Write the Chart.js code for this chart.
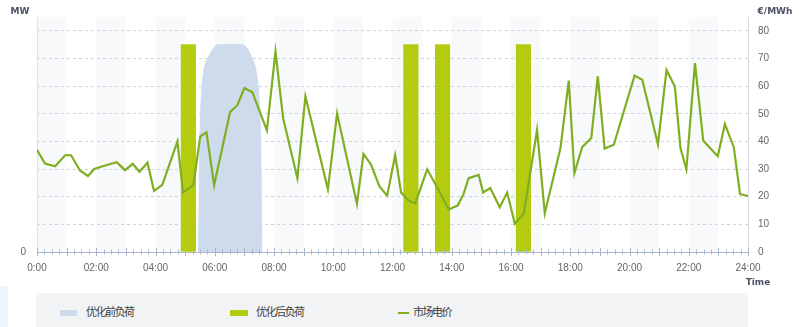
<!DOCTYPE html>
<html>
<head>
<meta charset="utf-8">
<script src="https://cdn.jsdelivr.net/npm/chart.js@4.4.1/dist/chart.umd.min.js"></script>
<style>
html, body { margin: 0; padding: 0; background: #fff; width: 799px; height: 327px; overflow: hidden; }
body { font-family: "Noto Sans CJK SC", "DejaVu Sans", sans-serif; position: relative; }
#wrap { position: absolute; left: 0; top: 0; width: 799px; height: 290px; }
#edge { position: absolute; left: 0; top: 286px; width: 8px; height: 41px; background: #eef4fb; }
#legend { position: absolute; left: 36px; top: 293px; width: 712px; height: 40px; background: #f2f3f5; }
.sw { position: absolute; }
.txt { position: absolute; top: 11px; font-size: 11px; line-height: 14px; color: #3d3d3d; letter-spacing: -1.5px; white-space: nowrap; }
</style>
</head>
<body>
<div id="wrap"><canvas id="myChart" width="799" height="290"></canvas></div>
<div id="edge"></div>
<div id="legend">
    <div class="sw" style="left:24px;top:17px;width:17px;height:6px;background:#ccdaec"></div>
    <div class="txt" id="lg0" style="left:50px"></div>
    <div class="sw" style="left:194px;top:17px;width:18px;height:6px;background:#b5cb0f"></div>
    <div class="txt" id="lg1" style="left:220px"></div>
    <div class="sw" style="left:362px;top:19px;width:11px;height:2px;background:#7fae22"></div>
    <div class="txt" id="lg2" style="left:377px"></div>
</div>
<script>
// series names
const seriesNames = ['优化前负荷', '优化后负荷', '市场电价'];

// market price (€/MWh), time in hours
const priceTimes = [0.00, 0.27, 0.61, 0.95, 1.15, 1.45, 1.72, 1.93, 2.30, 2.69,
    2.97, 3.23, 3.46, 3.73, 3.95, 4.23, 4.74, 4.93, 5.28, 5.51,
    5.72, 5.98, 6.52, 6.76, 7.00, 7.27, 7.76, 8.05, 8.31, 8.79,
    9.06, 9.82, 10.13, 10.80, 11.02, 11.27, 11.56, 11.82, 12.09, 12.29,
    12.54, 12.77, 13.17, 13.45, 13.90, 14.20, 14.40, 14.57, 14.91, 15.06,
    15.30, 15.62, 15.87, 16.13, 16.43, 16.88, 17.14, 17.67, 17.95, 18.14,
    18.40, 18.71, 18.93, 19.16, 19.47, 20.17, 20.43, 20.96, 21.25, 21.53,
    21.72, 21.92, 22.21, 22.49, 22.98, 23.22, 23.52, 23.73, 24.00];
const priceValues = [37, 32, 31, 35, 35, 29.5, 27.5, 30, 31.3, 32.5,
    29.6, 31.9, 29, 32.3, 22.1, 24.3, 40, 21.5, 24.3, 41.8,
    43.3, 24.2, 50.7, 53, 59.3, 57.8, 44, 72.5, 48.3, 26.7,
    56.3, 22.7, 50.1, 17.4, 35.5, 31.7, 23.7, 20.4, 35, 21.5,
    18.6, 17.6, 29.9, 24.5, 15.4, 16.8, 21, 26.7, 27.9, 21.5,
    23.1, 16.2, 21.5, 10.2, 13.8, 44.2, 14, 37.6, 62, 28.5,
    37.9, 41.2, 63.5, 37.4, 38.8, 63.8, 62.3, 39, 65.8, 59.9,
    37.6, 29.9, 68.3, 40.2, 34.6, 46.3, 37.9, 21, 20.2];

// load before optimisation (MW, left axis)
const beforeTimes = [5.45, 5.50, 5.56, 5.62, 5.79, 6.12, 6.52, 6.92, 7.25, 7.40, 7.48, 7.55, 7.59];
const beforeLoad = [0, 40, 58, 65, 70.4, 75, 75, 75, 70.4, 65, 58, 40, 0];

// load after optimisation (MW, left axis), bar centre times
const afterTimes = [5.11, 12.62, 13.69, 16.42];
const afterLoad = [75, 75, 75, 75];

// right axis ticks
const priceTicks = [0, 10, 20, 30, 40, 50, 60, 70, 80];

seriesNames.forEach((n, i) => { document.getElementById('lg' + i).textContent = n; });

const hourLabel = v => v === 0 ? '0:00' : String(v).padStart(2, '0') + ':00';

// light hour bands behind the grid
const bandsPlugin = {
    id: 'bands',
    beforeDraw(chart) {
        const { ctx, chartArea, scales } = chart;
        const x = scales.x;
        ctx.save();
        ctx.fillStyle = '#f8f9fb';
        for (let h = 0; h < 24; h += 2) {
            const x0 = x.getPixelForValue(h);
            const x1 = x.getPixelForValue(h + 1);
            ctx.fillRect(x0, chartArea.top, x1 - x0, chartArea.bottom - chartArea.top);
        }
        ctx.restore();
    }
};

// crossing tick marks on the time axis + unit texts
const extrasPlugin = {
    id: 'extras',
    afterDraw(chart) {
        const { ctx, chartArea, scales } = chart;
        const x = scales.x;
        const yb = chartArea.bottom;
        ctx.save();
        ctx.strokeStyle = '#a9b8ca';
        ctx.lineWidth = 1;
        x.ticks.forEach(t => {
            const px = Math.round(x.getPixelForValue(t.value)) + 0.5;
            const len = Number.isInteger(t.value) ? 4 : 2.5;
            ctx.beginPath();
            ctx.moveTo(px, yb - len);
            ctx.lineTo(px, yb + len);
            ctx.stroke();
        });
        ctx.fillStyle = '#4c5266';
        ctx.font = 'bold 9px "DejaVu Sans", sans-serif';
        ctx.textBaseline = 'middle';
        ctx.textAlign = 'center';
        ctx.fillText('MW', 20, 12);
        ctx.fillText('€/MWh', 775, 12);
        ctx.fillText('Time', 758, 283);
        ctx.restore();
    }
};

const ctx = document.getElementById('myChart').getContext('2d');
const myChart = new Chart(ctx, {
    type: 'line',
    data: {
        datasets: [
            {
                label: seriesNames[2],
                data: priceTimes.map((t, i) => ({ x: t, y: priceValues[i] })),
                yAxisID: 'y',
                borderColor: '#7fae22',
                borderWidth: 2.2,
                pointRadius: 0,
                tension: 0,
                order: 0
            },
            {
                type: 'bar',
                label: seriesNames[1],
                data: afterTimes.map((t, i) => ({ x: t, y: afterLoad[i] })),
                yAxisID: 'yL',
                backgroundColor: '#b5cb0f',
                barThickness: 14.5,
                order: 1
            },
            {
                label: seriesNames[0],
                data: beforeTimes.map((t, i) => ({ x: t, y: beforeLoad[i] })),
                yAxisID: 'yL',
                borderColor: '#cedbec',
                borderWidth: 1,
                backgroundColor: '#cedbec',
                fill: 'origin',
                pointRadius: 0,
                cubicInterpolationMode: 'monotone',
                order: 2
            }
        ]
    },
    options: {
        responsive: false,
        animation: false,
        layout: { padding: { top: 13, left: 0, right: 0, bottom: 0 } },
        scales: {
            x: {
                type: 'linear',
                min: 0,
                max: 24,
                offset: false,
                afterBuildTicks: axis => {
                    const ticks = [];
                    for (let q = 0; q <= 96; q++) ticks.push({ value: q / 4 });
                    axis.ticks = ticks;
                },
                afterFit: axis => { axis.height = 38; },
                grid: { drawOnChartArea: false, drawTicks: false },
                border: { color: '#a9b8ca' },
                ticks: {
                    autoSkip: false,
                    maxRotation: 0,
                    padding: 10,
                    color: '#666',
                    font: { family: 'Liberation Sans', size: 10 },
                    callback: function(value) {
                        return (Number.isInteger(value) && value % 2 === 0) ? hourLabel(value) : '';
                    }
                }
            },
            yL: {
                position: 'left',
                min: 0,
                max: 85,
                afterBuildTicks: axis => { axis.ticks = [{ value: 0 }]; },
                afterFit: axis => { axis.width = 37; },
                grid: { drawOnChartArea: false, drawTicks: false },
                border: { color: '#dfe3e9' },
                ticks: { padding: 11, color: '#666', font: { family: 'Liberation Sans', size: 10 } }
            },
            y: {
                position: 'right',
                min: 0,
                max: 85,
                afterBuildTicks: axis => { axis.ticks = priceTicks.map(v => ({ value: v })); },
                afterFit: axis => { axis.width = 51; },
                grid: {
                    drawTicks: false,
                    color: c => c.tick && c.tick.value === 0 ? 'rgba(0,0,0,0)' : '#ccd2dd'
                },
                border: { color: '#d6d9df', dash: [3, 3] },
                ticks: { padding: 10, color: '#666', font: { family: 'Liberation Sans', size: 10 } }
            }
        },
        plugins: {
            legend: { display: false },
            tooltip: { enabled: false }
        }
    },
    plugins: [bandsPlugin, extrasPlugin]
});
</script>
</body>
</html>
